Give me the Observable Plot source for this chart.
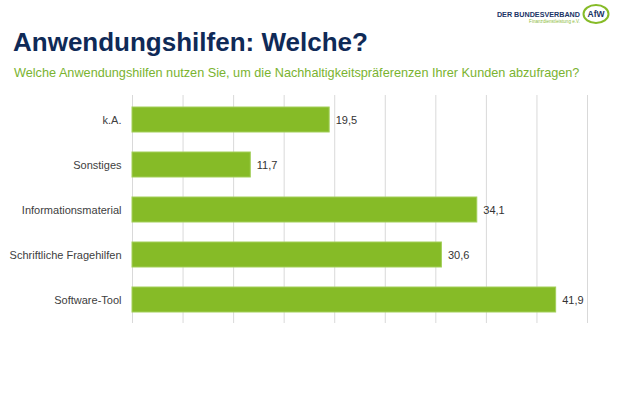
<!DOCTYPE html>
<html>
<head>
<meta charset="utf-8">
<script src="https://cdn.jsdelivr.net/npm/d3@7"></script>
<script src="https://cdn.jsdelivr.net/npm/@observablehq/plot@0.6"></script>
<style>
  html, body { margin: 0; padding: 0; background: #fff; }
  body { width: 620px; height: 413px; overflow: hidden; font-family: "Liberation Sans", Arial, sans-serif; }
  #header { position: relative; width: 620px; height: 90px; }
  #title { position: absolute; left: 13px; top: 27px; font-size: 26px; font-weight: bold; color: #0f2a57; white-space: nowrap; }
  #subtitle { position: absolute; left: 14px; top: 66px; font-size: 12.7px; color: #7ab330; white-space: nowrap; }
  #logo { position: absolute; left: 480px; top: 0; width: 140px; height: 30px; }
</style>
</head>
<body>
<div id="header">
  <div id="title">Anwendungshilfen: Welche?</div>
  <div id="subtitle">Welche Anwendungshilfen nutzen Sie, um die Nachhaltigkeitspräferenzen Ihrer Kunden abzufragen?</div>
  <svg id="logo" width="140" height="30" viewBox="0 0 140 30">
    <text x="100" y="17" text-anchor="end" font-family="Liberation Sans, Arial, sans-serif" font-weight="bold" font-size="7.2" fill="#1a3466">DER BUNDESVERBAND</text>
    <text x="100" y="23" text-anchor="end" font-family="Liberation Sans, Arial, sans-serif" font-size="4.6" fill="#8dbb3c">Finanzdienstleistung e.V.</text>
    <ellipse cx="116" cy="14" rx="12.5" ry="9" fill="#fff" stroke="#86bb27" stroke-width="2"/>
    <text x="116" y="17" text-anchor="middle" font-family="Liberation Sans, Arial, sans-serif" font-weight="bold" font-size="8.5" fill="#1a3466">AfW</text>
  </svg>
</div>
<div id="chart"></div>
<script>
const categories = ["k.A.", "Sonstiges", "Informationsmaterial", "Schriftliche Fragehilfen", "Software-Tool"];
const values = [19.5, 11.7, 34.1, 30.6, 41.9];
const xTicks = [0, 5, 10, 15, 20, 25, 30, 35, 40, 45];

const data = categories.map((c, i) => ({category: c, value: values[i]}));
const fmt = v => d3.format(".1f")(v).replace(".", ",");

const chart = Plot.plot({
  width: 620,
  height: 323,
  marginTop: 5,
  marginBottom: 90,
  marginLeft: 132,
  marginRight: 33,
  style: {fontFamily: "Liberation Sans, Arial, sans-serif", fontSize: "11px", background: "#fff"},
  x: {domain: [0, 45], ticks: xTicks, axis: null},
  y: {domain: categories, paddingInner: 0.45, paddingOuter: 0.225, label: null, tickSize: 0, tickPadding: 11},
  marks: [
    Plot.gridX(xTicks, {stroke: "#d9d9d9", strokeOpacity: 1, strokeWidth: 1}),
    Plot.barX(data, {y: "category", x: "value", fill: "#86bb27", stroke: "#a3cf5a", strokeWidth: 1}),
    Plot.text(data, {y: "category", x: "value", text: d => fmt(d.value), textAnchor: "start", dx: 6, fill: "#333", fontSize: 11}),
    Plot.axisY({tickSize: 0, tickPadding: 11, label: null, color: "#404040", fontSize: 11})
  ]
});
document.getElementById("chart").appendChild(chart);
</script>
</body>
</html>
